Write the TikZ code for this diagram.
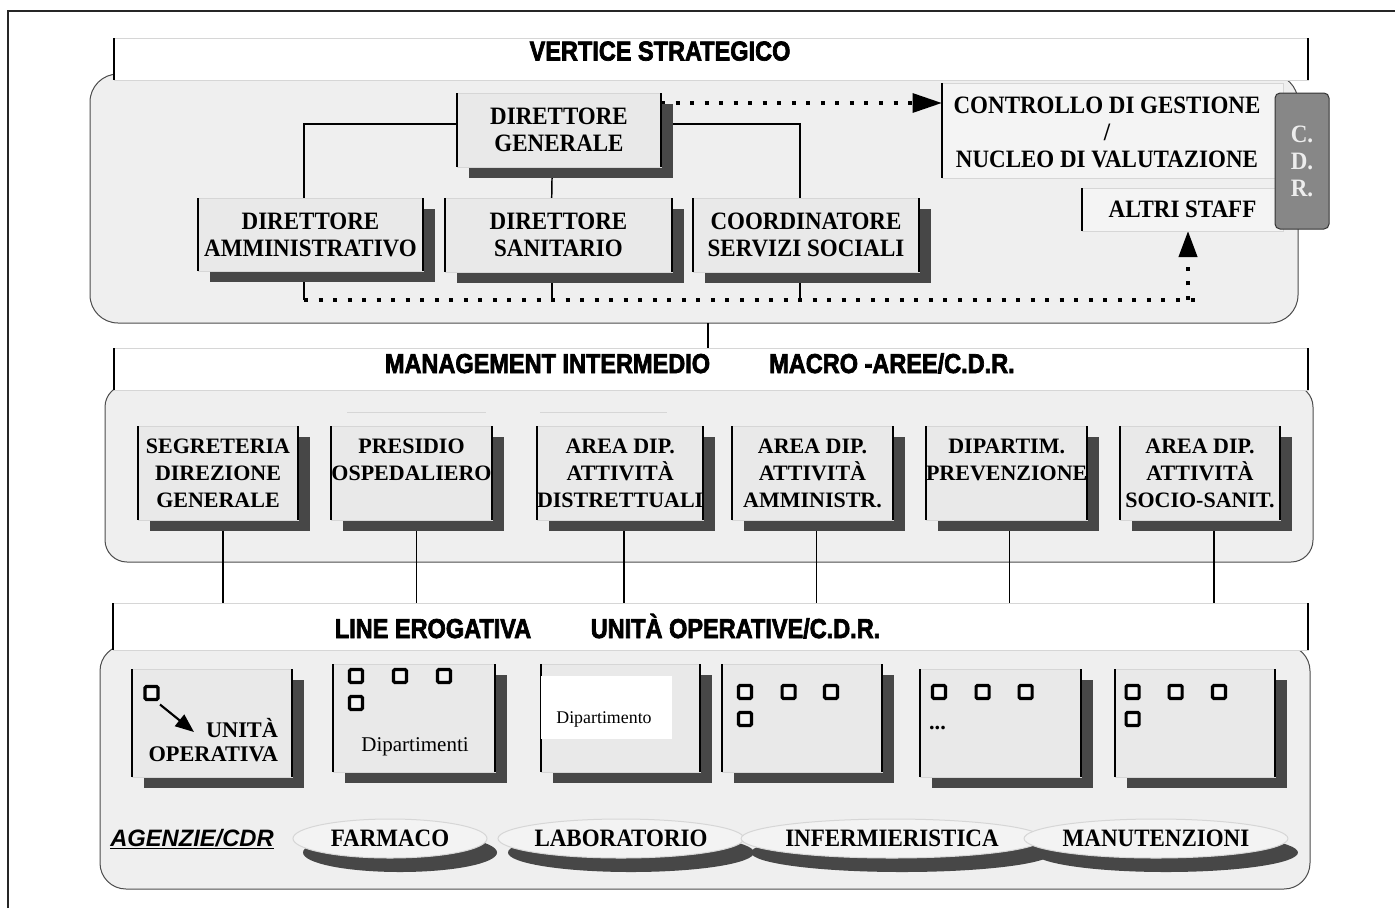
\documentclass[tikz,border=0pt]{standalone}
\usepackage{fontspec}
\setmainfont{Liberation Serif}
\newfontfamily\tallserif{Liberation Serif}[FakeStretch=0.92]
\newfontfamily\headfont{Liberation Sans}[FakeStretch=0.86,FakeBold=2.5]
\newfontfamily\agfont{Liberation Sans}
\usetikzlibrary{shapes.geometric,shadows,arrows.meta,calc}

\definecolor{panelfill}{HTML}{EFEFEF}
\definecolor{boxfill}{HTML}{E9E9E9}
\definecolor{stafffill}{HTML}{F4F4F4}
\definecolor{ellfill}{HTML}{F3F3F3}
\definecolor{shade}{HTML}{474747}
\definecolor{edgelight}{HTML}{D6D6D6}
\definecolor{cdrfill}{HTML}{878787}
\definecolor{cdrtext}{HTML}{EDEDED}

\newcommand\bxfont{\tallserif\fontsize{18.75pt}{20.25pt}\selectfont\bfseries}
\newcommand\midfont{\fontsize{16.5pt}{20.25pt}\selectfont\bfseries}
\newcommand\lowfont{\fontsize{16.75pt}{18pt}\selectfont\bfseries}
\newcommand\hdfont{\headfont\bfseries\fontsize{20.5pt}{24pt}\selectfont}

\pgfdeclarelayer{panels}
\pgfdeclarelayer{wires}
\pgfsetlayers{panels,wires,main}

\begin{document}
\begin{tikzpicture}[x=0.75pt,y=-0.75pt,
  every node/.style={inner sep=0pt,outer sep=0pt},
  panel/.style={draw=black!70,line width=0.75pt,fill=panelfill,rounded corners=#1,anchor=north west},
  band/.style={draw=edgelight,line width=0.75pt,fill=white,anchor=north west},
  unit/.style={draw=edgelight,line width=0.75pt,fill=boxfill,anchor=north west,align=center,
    drop shadow={shadow xshift=9pt,shadow yshift=-8.25pt,fill=shade,opacity=1}},
  staffbox/.style={draw=edgelight,line width=0.75pt,fill=stafffill,anchor=north west},
  sideline/.style={draw=black,line width=1.5pt},
  wire/.style={draw=black,line width=1.1pt},
  dots/.style={draw=black,line width=3pt,dash pattern=on 3pt off 7.9pt},
  sq/.style={draw=black,line width=2.4pt,fill=white!96!black,rounded corners=1pt,
    minimum size=9.75pt,anchor=north west},
  agency/.style={ellipse,draw=edgelight,line width=0.75pt,fill=ellfill,font=\bxfont,
    drop shadow={shadow xshift=7.5pt,shadow yshift=-10.5pt,fill=shade,opacity=1}},
  hd/.style={font=\hdfont,anchor=base},
]
\useasboundingbox (0,0) rectangle (1395,908);

% outer frame
\draw[draw=black!85,line width=1.5pt] (8,908) -- (8,11) -- (1395,11);

% panels and their title bands
\begin{pgfonlayer}{panels}
  \node[panel=21pt,minimum width=906pt,minimum height=186.75pt] (p1) at (90,74) {};
  \node[band,minimum width=895.5pt,minimum height=31.5pt] (b1) at (114,38) {};
  \node[panel=16.5pt,minimum width=906pt,minimum height=132.75pt] (p2) at (105,385) {};
  \node[band,minimum width=895.5pt,minimum height=31.5pt] (b2) at (114,348) {};
  \node[panel=19.5pt,minimum width=907.5pt,minimum height=183pt] (p3) at (100,645) {};
  \node[band,minimum width=896.25pt,minimum height=35.25pt] (b3) at (113,603) {};
\end{pgfonlayer}

\node[hd] (t1) at (660,60.5) {VERTICE STRATEGICO};
\node[hd] (t2) at (547.5,373) {MANAGEMENT INTERMEDIO};
\node[hd] (t3) at (892,373) {MACRO -AREE/C.D.R.};
\node[hd] (t4) at (433,638) {LINE EROGATIVA};
\node[hd] (t5) at (735.5,638) {UNITÀ OPERATIVE/C.D.R.};

% strategic apex
\node[unit,font=\bxfont,minimum width=153pt,minimum height=55.5pt] (dg) at (457,93) {DIRETTORE\\GENERALE};
\node[unit,font=\bxfont,minimum width=168.75pt,minimum height=54.75pt] (da) at (198,198) {DIRETTORE\\AMMINISTRATIVO};
\node[unit,font=\bxfont,minimum width=170.25pt,minimum height=55.5pt] (ds) at (445,198) {DIRETTORE\\SANITARIO};
\node[unit,font=\bxfont,minimum width=169.5pt,minimum height=55.5pt] (css) at (693,198) {COORDINATORE\\SERVIZI SOCIALI};

\node[staffbox,minimum width=255.75pt,minimum height=71.25pt] (cg) at (942,83) {};
\node[font=\bxfont,align=center] (cgt) at (1107,132) {CONTROLLO DI GESTIONE\\/\\NUCLEO DI VALUTAZIONE};
\node[staffbox,font=\bxfont,minimum width=150.75pt,minimum height=32.25pt] (as) at (1082,188) {ALTRI STAFF};
\node[draw=black!80,line width=0.75pt,fill=cdrfill,rounded corners=3.75pt,anchor=north west,
  minimum width=40.5pt,minimum height=102pt,font=\bxfont,text=cdrtext,align=center] (cdr) at (1275,93) {C.\\D.\\R.};

\coordinate (gtap) at ([yshift=-7.5pt]dg.north east);
\coordinate (dotL) at (304,300);
\coordinate (dotR) at (1199,300);
\coordinate (dotup) at (1188,300);

\begin{pgfonlayer}{wires}
  \draw[wire] ([yshift=4.5pt]dg.west) -| ([xshift=-4.9pt]da.north);
  \draw[wire] ([yshift=4.5pt]dg.east) -| ([xshift=-4.5pt]css.north);
  \draw[wire] ([xshift=-5.1pt]dg.south) -- ([xshift=-5.1pt]ds.north);
  \draw[wire] ([xshift=-4.9pt]da.south) -- ++(0,29);
  \draw[wire] ([xshift=-4.9pt]ds.south) -- ++(0,28);
  \draw[wire] ([xshift=-4.5pt]css.south) -- ++(0,28);
  \draw[dots] (dotL) -- (dotR);
  \draw[dots,-{Triangle[length=19.5pt,width=13.5pt]}] (dotup) -- (dotup |- as.south);
  \draw[dots,-{Triangle[length=22pt,width=14pt]}] (gtap) -- (gtap -| cg.west);
  \draw[wire] ([xshift=10.5pt]p1.south) -- ++(0,25);
\end{pgfonlayer}

% middle management
\node[unit,font=\midfont,minimum width=120pt,minimum height=70.5pt] (sdg) at (138,426) {SEGRETERIA\\DIREZIONE\\GENERALE};
\node[unit,font=\midfont,minimum width=120.75pt,minimum height=70.5pt] (po) at (331,426) {PRESIDIO\\OSPEDALIERO\\\mbox{}};
\node[unit,font=\midfont,minimum width=120pt,minimum height=70.5pt] (adist) at (537,426) {AREA DIP.\\ATTIVITÀ\\DISTRETTUALI};
\node[unit,font=\midfont,minimum width=120.75pt,minimum height=70.5pt] (aamm) at (732,426) {AREA DIP.\\ATTIVITÀ\\AMMINISTR.};
\node[unit,font=\midfont,minimum width=120pt,minimum height=70.5pt] (dprev) at (926,426) {DIPARTIM.\\PREVENZIONE\\\mbox{}};
\node[unit,font=\midfont,minimum width=120pt,minimum height=70.5pt] (asoc) at (1120,426) {AREA DIP.\\ATTIVITÀ\\SOCIO-SANIT.};

\draw[draw=edgelight,line width=0.75pt] (347,412) -- (486,412) (540,412) -- (667,412);

\begin{pgfonlayer}{wires}
  \foreach \n/\s in {sdg/3.75pt,po/3.75pt,adist/3pt,aamm/3pt,dprev/2.25pt,asoc/10.5pt}
    \draw[wire] ([xshift=\s]\n.south) -- ++(0,83);
\end{pgfonlayer}

% operating line
\node[unit,minimum width=120pt,minimum height=81pt] (uo) at (132,669) {};
\node[unit,minimum width=121.5pt,minimum height=81pt] (dip) at (333,664) {};
\node[unit,minimum width=119.25pt,minimum height=81pt] (dipo) at (541,664) {};
\node[unit,minimum width=120pt,minimum height=81pt] (u4) at (722,664) {};
\node[unit,minimum width=120.75pt,minimum height=81pt] (u5) at (920,669) {};
\node[unit,minimum width=120pt,minimum height=81pt] (u6) at (1115,669) {};

% dark side edges of the boxes and bands
\foreach \n in {b1,b2,b3,dg,da,ds,css,sdg,po,adist,aamm,dprev,asoc,uo,dip,dipo,u4,u5,u6}
  \draw[sideline] (\n.north west) -- (\n.south west) (\n.north east) -- (\n.south east);
\foreach \n in {cg,as}
  \draw[sideline] (\n.north west) -- (\n.south west);

\node[fill=white,anchor=north west,minimum width=98pt,minimum height=47.25pt] (dipw) at (541,676) {};
\node[font=\fontsize{13.4pt}{16pt}\selectfont,anchor=base] (dipot) at (604,723) {Dipartimento};
\node[font=\fontsize{15.75pt}{18pt}\selectfont,anchor=base] (dipt) at (415,751.5) {Dipartimenti};
\node[font=\lowfont,align=right,anchor=south east] (uot) at (278,761.5) {UNITÀ\\OPERATIVA};
\node[font=\lowfont,anchor=base] (u5t) at (937.5,729) {...};

\foreach \nm/\x/\y in {q1/143.5/685,
    q2/348/668,q3/392/668,q4/436/668,q5/348/695,
    q6/737/684,q7/780.6/684,q8/823/684,q9/737/711,
    q10/931/684,q11/974.6/684,q12/1017.6/684,
    q13/1124.6/684,q14/1167.6/684,q15/1211/684,q16/1124.6/711}
  \node[sq] (\nm) at (\x+1.5,\y+1.5) {};

\coordinate (uotip) at (194,732);
\draw[line width=1.6pt,-{Triangle[length=14pt,width=11pt]}] ($(q1.south east)+(2,5)$) -- (uotip);

% agencies
\node[font=\agfont\bfseries\itshape\fontsize{17.8pt}{20pt}\selectfont,anchor=base] (ag) at (192,846) {\underline{AGENZIE/CDR}};
\node[agency,minimum width=145.5pt,minimum height=29.25pt] (farm) at (390,838.5) {FARMACO};
\node[agency,minimum width=184.5pt,minimum height=29.25pt] (lab) at (621,838.5) {LABORATORIO};
\node[agency,minimum width=202.5pt,minimum height=29.25pt] (inf) at (892,838.5) {INFERMIERISTICA};
\node[agency,minimum width=177.75pt,minimum height=29.25pt] (man) at (1156,838.5) {MANUTENZIONI};
\end{tikzpicture}
\end{document}
